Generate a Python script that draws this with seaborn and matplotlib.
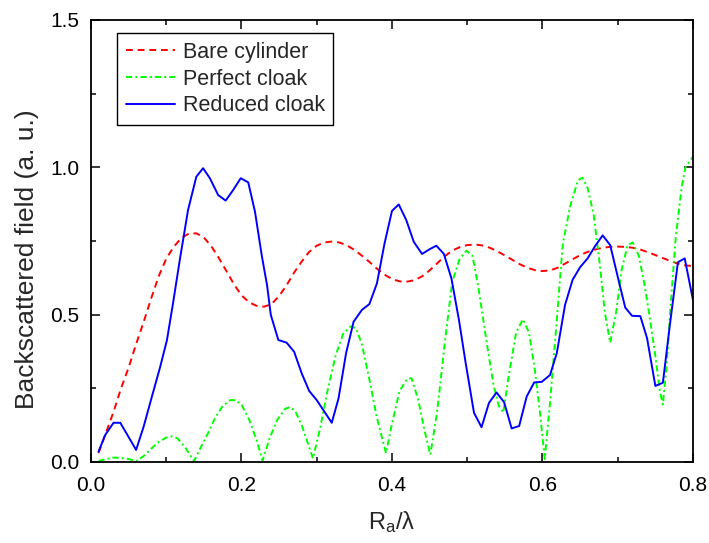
import matplotlib
matplotlib.use("Agg")
import matplotlib.pyplot as plt
from matplotlib.ticker import MultipleLocator, FormatStrFormatter
import seaborn as sns
import pandas as pd

# Bare cylinder
bare_x = [0.010, 0.020, 0.030, 0.040, 0.050, 0.060, 0.070, 0.080, 0.090, 0.100,
          0.110, 0.120, 0.130, 0.140, 0.150, 0.160, 0.170, 0.180, 0.190, 0.200,
          0.210, 0.220, 0.230, 0.240, 0.250, 0.260, 0.270, 0.280, 0.290, 0.300,
          0.310, 0.320, 0.330, 0.340, 0.350, 0.360, 0.370, 0.380, 0.390, 0.400,
          0.410, 0.420, 0.430, 0.440, 0.450, 0.460, 0.470, 0.480, 0.490, 0.500,
          0.510, 0.520, 0.530, 0.540, 0.550, 0.560, 0.570, 0.580, 0.590, 0.600,
          0.610, 0.620, 0.630, 0.640, 0.650, 0.660, 0.670, 0.680, 0.690, 0.700,
          0.710, 0.720, 0.730, 0.740, 0.750, 0.760, 0.770, 0.780, 0.790, 0.800]
bare_y = [0.030, 0.100, 0.170, 0.250, 0.320, 0.400, 0.475, 0.555, 0.630, 0.690,
          0.730, 0.760, 0.775, 0.776, 0.762, 0.732, 0.692, 0.648, 0.603, 0.566,
          0.542, 0.530, 0.527, 0.536, 0.563, 0.600, 0.643, 0.680, 0.713, 0.734,
          0.745, 0.748, 0.745, 0.735, 0.720, 0.700, 0.679, 0.656, 0.636, 0.621,
          0.613, 0.612, 0.617, 0.630, 0.650, 0.674, 0.698, 0.717, 0.729, 0.736,
          0.738, 0.735, 0.727, 0.715, 0.701, 0.686, 0.671, 0.659, 0.651, 0.648,
          0.650, 0.659, 0.673, 0.688, 0.702, 0.713, 0.721, 0.727, 0.730, 0.731,
          0.730, 0.727, 0.721, 0.712, 0.702, 0.692, 0.682, 0.673, 0.667, 0.665]

# Perfect cloak
perfect_x = [0.010, 0.020, 0.030, 0.040, 0.050, 0.060, 0.070, 0.080, 0.090, 0.100,
             0.108, 0.115, 0.125, 0.137, 0.145, 0.155, 0.165, 0.175, 0.185, 0.192,
             0.200, 0.210, 0.220, 0.228, 0.238, 0.248, 0.258, 0.265, 0.272, 0.280,
             0.288, 0.295, 0.305, 0.315, 0.325, 0.335, 0.345, 0.352, 0.360, 0.370,
             0.380, 0.392, 0.400, 0.410, 0.420, 0.426, 0.435, 0.443, 0.451, 0.460,
             0.470, 0.480, 0.490, 0.499, 0.507, 0.515, 0.525, 0.535, 0.542, 0.548,
             0.555, 0.565, 0.574, 0.582, 0.590, 0.597, 0.603, 0.610, 0.618, 0.627,
             0.637, 0.647, 0.653, 0.660, 0.668, 0.676, 0.683, 0.690, 0.698, 0.705,
             0.713, 0.720, 0.728, 0.735, 0.742, 0.750, 0.756, 0.760, 0.765, 0.770,
             0.777, 0.785, 0.790, 0.800]
perfect_y = [0.003, 0.010, 0.015, 0.014, 0.010, 0.003, 0.020, 0.045, 0.068, 0.083,
             0.087, 0.080, 0.050, 0.003, 0.045, 0.095, 0.150, 0.190, 0.210, 0.210,
             0.195, 0.145, 0.075, 0.005, 0.085, 0.145, 0.180, 0.187, 0.170, 0.125,
             0.065, 0.012, 0.120, 0.250, 0.360, 0.435, 0.460, 0.455, 0.400, 0.280,
             0.150, 0.030, 0.130, 0.240, 0.282, 0.284, 0.210, 0.110, 0.025, 0.170,
             0.400, 0.610, 0.690, 0.717, 0.700, 0.590, 0.420, 0.260, 0.190, 0.168,
             0.290, 0.440, 0.484, 0.440, 0.310, 0.160, 0.010, 0.200, 0.450, 0.740,
             0.870, 0.955, 0.965, 0.930, 0.840, 0.674, 0.505, 0.405, 0.510, 0.650,
             0.735, 0.745, 0.700, 0.610, 0.500, 0.360, 0.240, 0.195, 0.330, 0.520,
             0.760, 0.934, 1.000, 1.036]

# Reduced cloak
reduced_x = [0.010, 0.019, 0.030, 0.039, 0.060, 0.070, 0.081, 0.092, 0.101, 0.109,
             0.118, 0.129, 0.140, 0.149, 0.158, 0.169, 0.179, 0.189, 0.199, 0.209,
             0.218, 0.227, 0.234, 0.239, 0.249, 0.260, 0.270, 0.280, 0.290, 0.300,
             0.320, 0.329, 0.339, 0.349, 0.360, 0.370, 0.380, 0.390, 0.400, 0.409,
             0.419, 0.429, 0.440, 0.450, 0.459, 0.469, 0.479, 0.489, 0.498, 0.509,
             0.519, 0.529, 0.539, 0.549, 0.559, 0.569, 0.579, 0.589, 0.599, 0.610,
             0.619, 0.630, 0.640, 0.650, 0.660, 0.670, 0.680, 0.690, 0.701, 0.710,
             0.719, 0.730, 0.739, 0.750, 0.760, 0.769, 0.780, 0.789, 0.800]
reduced_y = [0.035, 0.092, 0.133, 0.133, 0.041, 0.120, 0.222, 0.323, 0.414, 0.538,
             0.685, 0.855, 0.968, 0.997, 0.963, 0.906, 0.887, 0.923, 0.963, 0.949,
             0.849, 0.700, 0.600, 0.499, 0.414, 0.405, 0.374, 0.301, 0.241, 0.210,
             0.133, 0.216, 0.369, 0.476, 0.516, 0.536, 0.606, 0.740, 0.852, 0.874,
             0.821, 0.747, 0.706, 0.722, 0.734, 0.706, 0.623, 0.482, 0.335, 0.167,
             0.118, 0.201, 0.236, 0.203, 0.114, 0.122, 0.222, 0.270, 0.272, 0.295,
             0.369, 0.533, 0.618, 0.661, 0.691, 0.733, 0.769, 0.736, 0.618, 0.524,
             0.496, 0.495, 0.420, 0.258, 0.269, 0.459, 0.678, 0.691, 0.550]

sns.set_style("ticks")
plt.rcParams["font.family"] = ["Liberation Sans", "DejaVu Sans"]
plt.rcParams["mathtext.fontset"] = "custom"
plt.rcParams["mathtext.rm"] = "Liberation Sans"
plt.rcParams["mathtext.it"] = "Liberation Sans:italic"

fig = plt.figure(figsize=(7.09, 5.43), dpi=100)
ax = fig.add_axes([0.1283, 0.1492, 0.8491, 0.814])

lw = 1.4
series = [
    ("Bare cylinder", bare_x, bare_y, "#ff0000", (0, (3.5, 2.5))),
    ("Perfect cloak", perfect_x, perfect_y, "#00ff00", (0, (3.2, 1.6, 1.0, 1.6))),
    ("Reduced cloak", reduced_x, reduced_y, "#0000ff", "-"),
]
for name, xs, ys, col, ls in series:
    df = pd.DataFrame({"x": xs, "y": ys})
    sns.lineplot(data=df, x="x", y="y", ax=ax, color=col, linewidth=lw,
                 linestyle=ls, label=name, sort=False, estimator=None)

ax.set_xlim(0.0, 0.8)
ax.set_ylim(0.0, 1.5)
ax.xaxis.set_major_locator(MultipleLocator(0.2))
ax.xaxis.set_minor_locator(MultipleLocator(0.1))
ax.yaxis.set_major_locator(MultipleLocator(0.5))
ax.yaxis.set_minor_locator(MultipleLocator(0.25))
ax.xaxis.set_major_formatter(FormatStrFormatter("%.1f"))
ax.yaxis.set_major_formatter(FormatStrFormatter("%.1f"))

ax.tick_params(which="both", direction="in", top=True, right=True,
               width=1.1, colors="black", labelsize=15)
ax.tick_params(which="major", length=6.5)
ax.tick_params(which="minor", length=3.5)
ax.tick_params(axis="x", which="major", pad=9.8)
ax.tick_params(axis="y", which="major", pad=8.1)
for sp in ax.spines.values():
    sp.set_visible(True)
    sp.set_linewidth(1.3)
    sp.set_color("black")

ax.set_xlabel(r"R$_{\rm a}$/λ", fontsize=17, labelpad=10.5)
ax.set_ylabel("Backscattered field (a. u.)", fontsize=19, labelpad=8)
ax.yaxis.label.set_y(0.459)

leg = ax.legend(loc="upper left", bbox_to_anchor=(0.0437, 0.970), fontsize=15.5,
                frameon=True, fancybox=False, edgecolor="black",
                handlelength=2.28, handletextpad=0.36, borderpad=0.4,
                labelspacing=0.27, borderaxespad=0.0)
leg.get_frame().set_linewidth(1.0)
leg.get_frame().set_alpha(1.0)

fig.savefig("out.png", dpi=100)
